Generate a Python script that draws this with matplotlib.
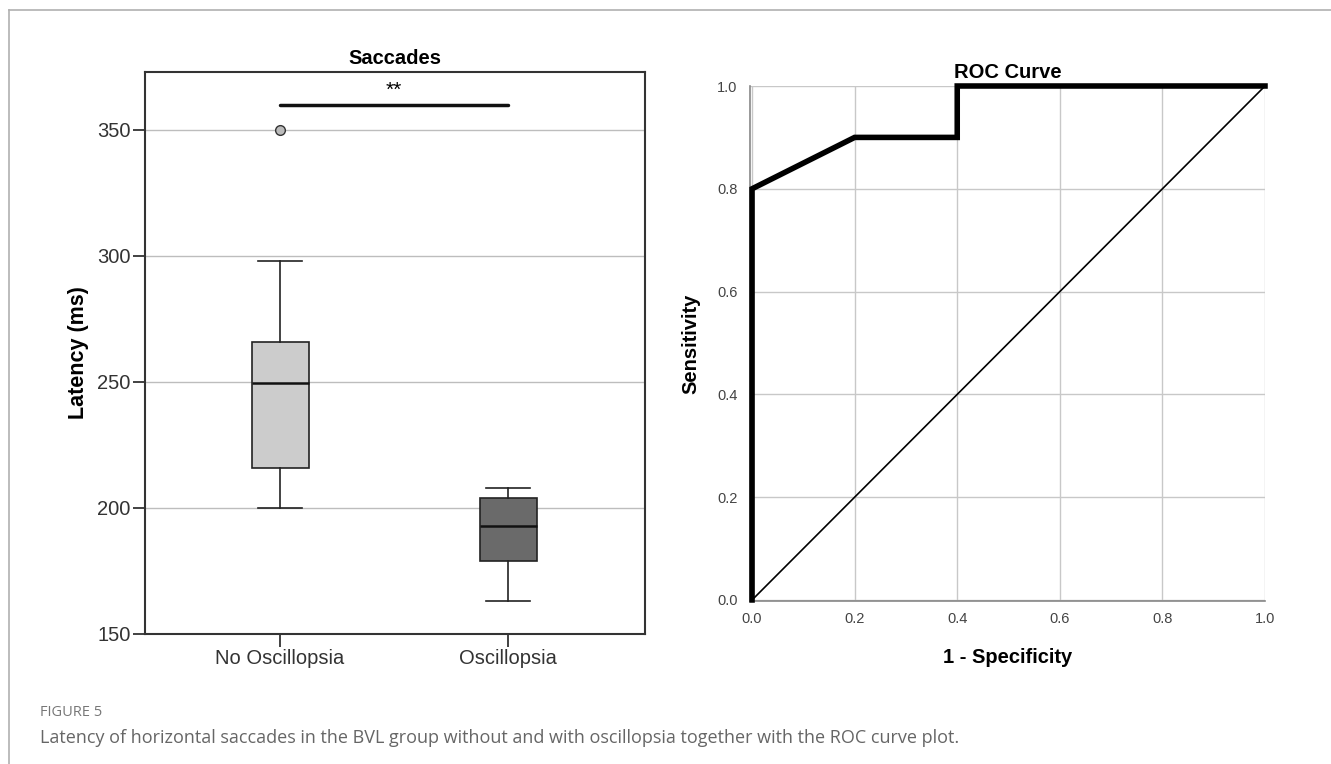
import matplotlib
matplotlib.use("Agg")
import matplotlib.pyplot as plt
from matplotlib.lines import Line2D

# ---- data ----
groups = ["No Oscillopsia", "Oscillopsia"]
whisker_low = [200, 163]
q1 = [216, 179]
median = [249.5, 193]
q3 = [266, 204]
whisker_high = [298, 208]
outliers = [[350], []]
box_colors = ["#cccccc", "#6a6a6a"]
y_ticks = [150, 200, 250, 300, 350]
sig_level = 360
sig_text = "**"

roc_fpr = [0.0, 0.0, 0.2, 0.4, 0.4, 1.0]
roc_tpr = [0.0, 0.8, 0.9, 0.9, 1.0, 1.0]
roc_ticks = [0.0, 0.2, 0.4, 0.6, 0.8, 1.0]

W, H = 1331, 764
fig = plt.figure(figsize=(W / 100, H / 100), dpi=100)
fig.patch.set_facecolor("white")

def px_axes(x0, x1, ytop, ybot):
    return fig.add_axes([x0 / W, 1 - ybot / H, (x1 - x0) / W, (ybot - ytop) / H])

# frame lines (journal style)
fig.add_artist(Line2D([9 / W, 1], [1 - 10 / H, 1 - 10 / H], color="#b0b0b0", lw=1.2))
fig.add_artist(Line2D([9 / W, 9 / W], [0, 1 - 10 / H], color="#b0b0b0", lw=1.2))

arial = ["Liberation Sans", "DejaVu Sans"]

# ---- left: boxplot ----
ax = px_axes(145, 645, 72, 634)
stats = []
for i in range(len(groups)):
    stats.append(dict(med=median[i], q1=q1[i], q3=q3[i], whislo=whisker_low[i],
                      whishi=whisker_high[i], fliers=outliers[i], label=groups[i]))
bp = ax.bxp(stats, positions=[1, 2], widths=0.25, patch_artist=True, showfliers=True,
            boxprops=dict(edgecolor="#222222", linewidth=1.2),
            medianprops=dict(color="#111111", linewidth=1.8),
            whiskerprops=dict(color="#222222", linewidth=1.2),
            capprops=dict(color="#222222", linewidth=1.2),
            flierprops=dict(marker="o", markerfacecolor="#bbbbbb", markeredgecolor="#333333",
                            markersize=7, markeredgewidth=1.0),
            zorder=3)
for p, c in zip(bp["boxes"], box_colors):
    p.set_facecolor(c)
for cap in bp["caps"]:
    xd = cap.get_xdata()
    mid = (xd[0] + xd[1]) / 2
    cap.set_xdata([mid - 0.095, mid + 0.095])

ax.set_xlim(0.408, 2.6)
ax.set_ylim(150, 373)
ax.set_yticks(y_ticks)
ax.set_yticklabels([str(t) for t in y_ticks], fontsize=14.5, color="#333333", family=arial)
ax.set_xticks([1, 2])
ax.set_xticklabels(groups, fontsize=14.5, color="#333333", family=arial)
ax.yaxis.grid(True, color="#bdbdbd", linewidth=1.0, zorder=0)
ax.set_axisbelow(True)
for s in ax.spines.values():
    s.set_color("#333333")
    s.set_linewidth(1.5)
ax.tick_params(axis="both", direction="out", length=9, width=1.3, color="#333333", pad=1.5)
ax.set_ylabel("Latency (ms)", fontsize=15.5, fontweight="bold", family=arial, labelpad=6)
ax.set_title("Saccades", fontsize=14.5, fontweight="bold", family=arial, pad=6)
ax.plot([1, 2], [sig_level, sig_level], color="#111111", lw=2.5, solid_capstyle="round", zorder=4)
ax.text(1.5, sig_level + 2, sig_text, ha="center", va="bottom", fontsize=15, family=arial)

# ---- right: ROC ----
ax2 = px_axes(750, 1265, 86, 601)
ax2.set_xlim(-0.004, 1.0)
ax2.set_ylim(-0.002, 1.0)
ax2.set_xticks(roc_ticks)
ax2.set_yticks(roc_ticks)
ax2.set_xticklabels([f"{t:.1f}" for t in roc_ticks], fontsize=10.5, color="#444444", family=arial)
ax2.set_yticklabels([f"{t:.1f}" for t in roc_ticks], fontsize=10.5, color="#444444", family=arial)
ax2.grid(True, color="#c8c8c8", linewidth=1.0, zorder=0)
ax2.set_axisbelow(True)
for k in ["top", "right"]:
    ax2.spines[k].set_visible(False)
for k in ["left", "bottom"]:
    ax2.spines[k].set_color("#888888")
    ax2.spines[k].set_linewidth(1.2)
ax2.tick_params(axis="y", length=0, pad=9)
ax2.tick_params(axis="x", length=0, pad=8)
ax2.plot([0, 1], [0, 1], color="black", lw=1.2, zorder=3)
ax2.plot(roc_fpr, roc_tpr, color="black", lw=4.0, solid_joinstyle="miter", zorder=4, clip_on=False)
ax2.set_xlabel("1 - Specificity", fontsize=14.5, fontweight="bold", family=arial, labelpad=16)
ax2.set_ylabel("Sensitivity", fontsize=14.5, fontweight="bold", family=arial, labelpad=12)
ax2.set_title("ROC Curve", fontsize=14.5, fontweight="bold", family=arial, pad=6)

# ---- caption ----
fig.text(40 / W, 1 - 712 / H, "FIGURE 5", fontsize=10.5, color="#777777", family="Open Sans", va="center")
fig.text(40 / W, 1 - 738 / H,
         "Latency of horizontal saccades in the BVL group without and with oscillopsia together with the ROC curve plot.",
         fontsize=13, color="#666666", family="Open Sans", va="center")

fig.savefig("out.png", dpi=100, facecolor="white")
